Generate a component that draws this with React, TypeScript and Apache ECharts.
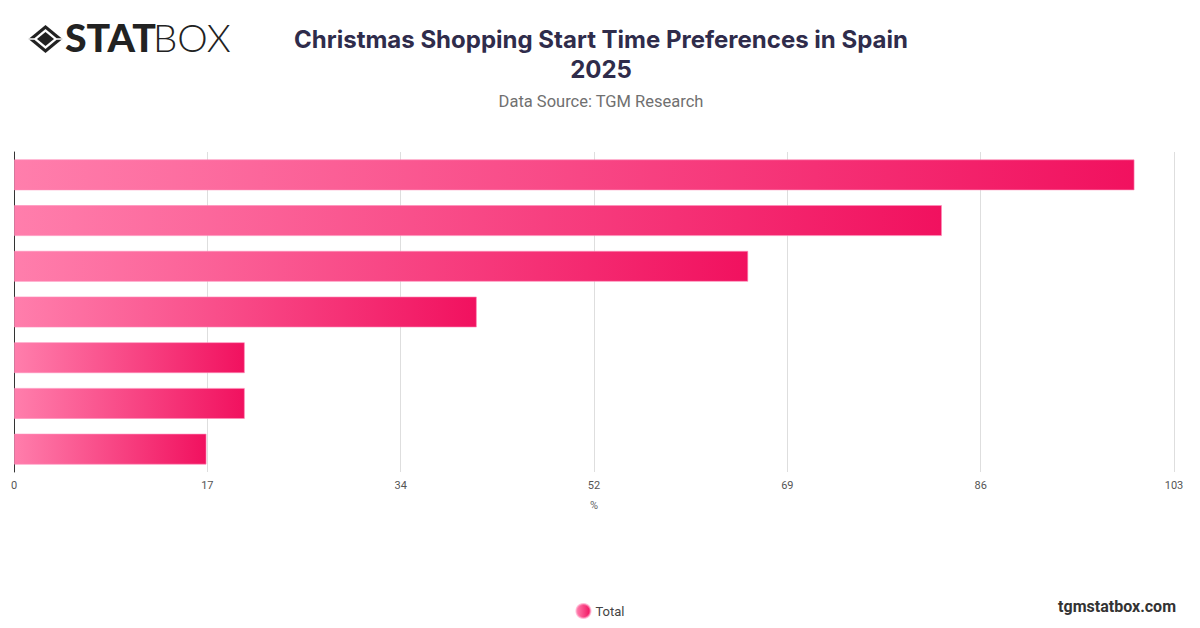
import React, { useEffect, useRef } from "react";
import * as echarts from "echarts";

const categories = [
  "Late December",
  "Mid December",
  "Early December",
  "Late November",
  "Black Friday",
  "Early November",
  "Before November",
];
const totalValues = [17.1, 20.5, 20.5, 41.1, 65.2, 82.4, 99.5];
const axisMax = 103;
const tickCount = 6;
const titleText = "Christmas Shopping Start Time Preferences in Spain\n2025";
const subtitleText = "Data Source: TGM Research";
const seriesName = "Total";
const axisName = "%";

export default function App() {
  const ref = useRef<HTMLDivElement>(null);
  useEffect(() => {
    if (!ref.current) return;
    const chart = echarts.init(ref.current, undefined, { renderer: "svg" });
    const grad = new echarts.graphic.LinearGradient(0, 0, 1, 0, [
      { offset: 0, color: "#ff7eac" },
      { offset: 1, color: "#f1115f" },
    ]);
    chart.setOption({
      animation: false,
      backgroundColor: "#ffffff",
      title: {
        text: titleText,
        subtext: subtitleText,
        left: 596,
        top: 19,
        textAlign: "center",
        itemGap: 9,
        textStyle: {
          fontFamily: "Inter",
          fontWeight: "bold",
          fontSize: 24,
          lineHeight: 30,
          color: "#2f2c4b",
        },
        subtextStyle: {
          fontFamily: "Roboto",
          fontSize: 16.5,
          color: "#707070",
        },
      },
      legend: {
        bottom: 4,
        left: "center",
        icon: "circle",
        itemWidth: 14,
        itemHeight: 14,
        itemGap: 10,
        textStyle: { fontFamily: "Roboto", fontSize: 13, color: "#444" },
        data: [seriesName],
      },
      grid: { left: 14, right: 26, top: 152, bottom: 156, containLabel: false },
      xAxis: {
        type: "value",
        min: 0,
        max: axisMax,
        interval: axisMax / tickCount,
        name: axisName,
        nameLocation: "middle",
        nameGap: 28,
        nameTextStyle: { fontFamily: "Roboto", fontSize: 11, color: "#666" },
        axisLine: { show: false },
        axisTick: { show: false },
        axisLabel: {
          fontFamily: "Roboto",
          fontSize: 11,
          color: "#555",
          margin: 8,
          formatter: (v: number) => String(Math.round(v)),
        },
        splitLine: { show: true, lineStyle: { color: "#dedede", width: 1 } },
      },
      yAxis: {
        type: "category",
        data: categories,
        axisLine: { show: true, lineStyle: { color: "#333", width: 1 } },
        axisTick: { show: false },
        axisLabel: { show: false },
        splitLine: { show: false },
      },
      series: [
        {
          name: seriesName,
          type: "bar",
          data: totalValues,
          barCategoryGap: "32%",
          itemStyle: {
            color: grad,
            borderColor: "rgba(255,140,185,0.6)",
            borderWidth: 1,
          },
        },
      ],
      graphic: [
        {
          type: "group",
          left: 26,
          top: 25,
          children: [
            {
              type: "polygon",
              shape: { points: [[17, 0], [34, 14], [17, 28], [0, 14]] },
              style: { fill: "#222" },
            },
            {
              type: "polygon",
              shape: { points: [[17, 4], [29, 14], [17, 24], [5, 14]] },
              style: { fill: "#fff" },
            },
            {
              type: "polygon",
              shape: { points: [[17, 7], [25.5, 14], [17, 21], [8.5, 14]] },
              style: { fill: "#222" },
            },
            {
              type: "line",
              shape: { x1: 0, y1: 14, x2: 6, y2: 14 },
              style: { stroke: "#fff", lineWidth: 1.5 },
            },
            {
              type: "line",
              shape: { x1: 28, y1: 14, x2: 34, y2: 14 },
              style: { stroke: "#fff", lineWidth: 1.5 },
            },
          ],
        },
        {
          type: "text",
          x: 65,
          y: 19,
          scaleX: 1.06,
          style: {
            text: "STAT",
            fontFamily: "Lato",
            fontWeight: 900,
            fontSize: 37,
            fill: "#222",
          },
        },
        {
          type: "text",
          x: 153,
          y: 19,
          scaleX: 1.04,
          style: {
            text: "BOX",
            fontFamily: "Lato",
            fontWeight: 300,
            fontSize: 37,
            fill: "#222",
          },
        },
        {
          type: "text",
          right: 24,
          top: 598,
          style: {
            text: "tgmstatbox.com",
            fontFamily: "Roboto",
            fontWeight: "bold",
            fontSize: 16,
            fill: "#333",
          },
        },
      ],
    });
    return () => chart.dispose();
  }, []);
  return <div ref={ref} style={{ width: 1200, height: 628, margin: -8 }} />;
}
